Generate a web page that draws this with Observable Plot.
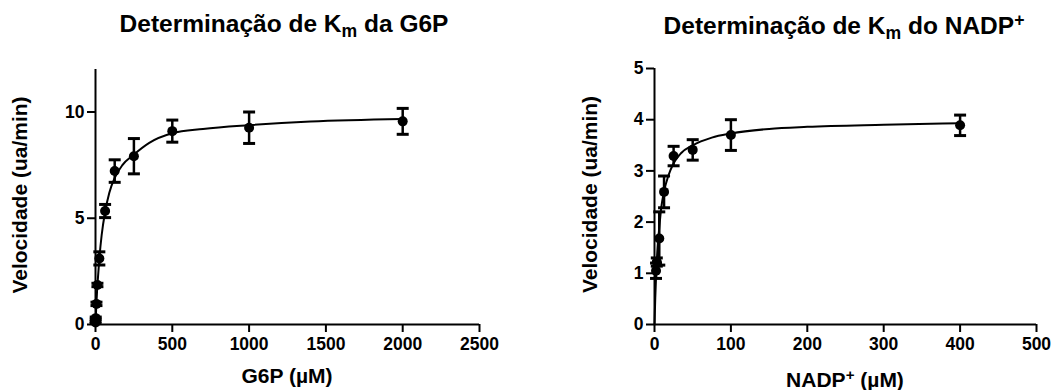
<!DOCTYPE html>
<html>
<head>
<meta charset="utf-8">
<script src="https://cdn.jsdelivr.net/npm/d3@7"></script>
<script src="https://cdn.jsdelivr.net/npm/@observablehq/plot@0.6"></script>
<style>
  html, body { margin: 0; padding: 0; background: #fff; }
  body { font-family: "Liberation Sans", Arial, sans-serif; }
  #wrap { position: relative; width: 1054px; height: 390px; overflow: hidden; }
  .t { position: absolute; width: 460px; text-align: center; font-weight: bold; color: #000; white-space: nowrap; line-height: 1; }
  .t sub, .t sup { font-size: 72%; line-height: 0; }
  .t sub { vertical-align: -0.3em; }
  .t sup { vertical-align: 0.45em; }
  .title { font-size: 24.5px; }
  .xl { font-size: 21px; }
  .panel { position: absolute; top: 58px; }
</style>
</head>
<body>
<div id="wrap">
  <div class="t title" style="left:54px; top:12px;">Determinação de K<sub>m</sub> da G6P</div>
  <div class="t title" style="left:614px; top:14px;">Determinação de K<sub>m</sub> do NADP<sup>+</sup></div>
  <div class="panel" id="p1" style="left:0px;"></div>
  <div class="panel" id="p2" style="left:527px;"></div>
  <div class="t xl" style="left:57px; top:365px;">G6P (µM)</div>
  <div class="t xl" style="left:615px; top:369px;">NADP<sup>+</sup> (µM)</div>
</div>
<script>
// ---- G6P data (µM, ua/min) ----
const g6pConc = [0.5, 1.5, 6.25, 12.5, 25, 62.5, 125, 250, 500, 1000, 2000];
const g6pVel  = [0.1, 0.3, 0.97, 1.86, 3.11, 5.34, 7.22, 7.92, 9.1, 9.26, 9.56];
const g6pErr  = [0.05, 0.05, 0.08, 0.08, 0.31, 0.31, 0.53, 0.83, 0.52, 0.74, 0.61];
// fitted curve
const g6pFitX = [0, 2, 5, 10, 15, 25, 40, 62.5, 90, 125, 175, 250, 350, 500, 700, 1000, 1400, 2000];
const g6pFitY = [0, 0.35, 0.85, 1.55, 2.1, 3.1, 4.2, 5.3, 6.2, 6.9, 7.5, 8.0, 8.55, 9.0, 9.2, 9.38, 9.55, 9.67];
const g6pXTicks = [0, 500, 1000, 1500, 2000, 2500];
const g6pYTicks = [0, 5, 10];

// ---- NADP+ data ----
const nadpConc = [2, 3, 6.25, 12.5, 25, 50, 100, 400];
const nadpVel  = [1.05, 1.22, 1.68, 2.59, 3.29, 3.41, 3.7, 3.89];
const nadpErr  = [0.15, 0.08, 0.52, 0.31, 0.19, 0.2, 0.3, 0.2];
const nadpFitX = [0, 1, 2, 4, 6, 9, 12.5, 18, 25, 35, 50, 75, 100, 150, 200, 300, 400];
const nadpFitY = [0, 0.52, 0.92, 1.5, 1.85, 2.3, 2.6, 2.9, 3.15, 3.35, 3.5, 3.65, 3.73, 3.82, 3.86, 3.9, 3.93];
const nadpXTicks = [0, 100, 200, 300, 400, 500];
const nadpYTicks = [0, 1, 2, 3, 4, 5];

const yLabel = "Velocidade (ua/min)";
const FONT = '"Liberation Sans", Arial, sans-serif';

// horizontal cap symbol for error bars
const capSymbol = {
  draw(ctx, size) {
    const w = Math.sqrt(size / Math.PI);
    ctx.moveTo(-w, 0);
    ctx.lineTo(w, 0);
  }
};

function panel(o) {
  const pts = o.conc.map((x, i) => ({x, y: o.vel[i], lo: o.vel[i] - o.err[i], hi: o.vel[i] + o.err[i]}));
  const fit = o.fitX.map((x, i) => ({x, y: o.fitY[i]}));
  return Plot.plot({
    width: 527,
    height: 300,
    marginLeft: o.marginLeft,
    marginRight: o.marginRight,
    marginTop: o.marginTop,
    marginBottom: 34,
    x: {domain: o.xDomain},
    y: {domain: o.yDomain},
    style: {fontFamily: FONT, background: "transparent", color: "#000", overflow: "visible"},
    marks: [
      Plot.axisX({ticks: o.xTicks, tickSize: 8, tickPadding: 5, fontSize: 17.5, fontWeight: "bold", strokeWidth: 2, label: null, tickFormat: d => String(d)}),
      Plot.axisY({ticks: o.yTicks, tickSize: 8, tickPadding: 3, fontSize: 17.5, fontWeight: "bold", strokeWidth: 2, label: null, tickFormat: d => String(d)}),
      Plot.ruleX([o.xDomain[0]], {strokeWidth: 2, stroke: "#000"}),
      Plot.ruleY([o.yDomain[0]], {strokeWidth: 2, stroke: "#000"}),
      Plot.line(fit, {x: "x", y: "y", curve: "monotone-x", strokeWidth: 2, stroke: "#000"}),
      Plot.ruleX(pts, {x: "x", y1: "lo", y2: "hi", strokeWidth: 2.5, stroke: "#000"}),
      Plot.dot(pts, {x: "x", y: "lo", symbol: capSymbol, r: 6, stroke: "#000", strokeWidth: 3}),
      Plot.dot(pts, {x: "x", y: "hi", symbol: capSymbol, r: 6, stroke: "#000", strokeWidth: 3}),
      Plot.dot(pts, {x: "x", y: "y", r: 5, fill: "#000"}),
      Plot.text([yLabel], {frameAnchor: "left", textAnchor: "middle", lineAnchor: "middle", rotate: -90, dx: o.labelDx, dy: -2, fontSize: 21, fontWeight: "bold", fill: "#000"})
    ]
  });
}

document.getElementById("p1").appendChild(panel({
  conc: g6pConc, vel: g6pVel, err: g6pErr, fitX: g6pFitX, fitY: g6pFitY,
  xDomain: [0, 2500], yDomain: [0, 12], xTicks: g6pXTicks, yTicks: g6pYTicks,
  marginLeft: 95, marginRight: 48, marginTop: 11, labelDx: -75
}));
document.getElementById("p2").appendChild(panel({
  conc: nadpConc, vel: nadpVel, err: nadpErr, fitX: nadpFitX, fitY: nadpFitY,
  xDomain: [0, 500], yDomain: [0, 5], xTicks: nadpXTicks, yTicks: nadpYTicks,
  marginLeft: 127, marginRight: 18, marginTop: 10, labelDx: -64
}));
</script>
</body>
</html>
